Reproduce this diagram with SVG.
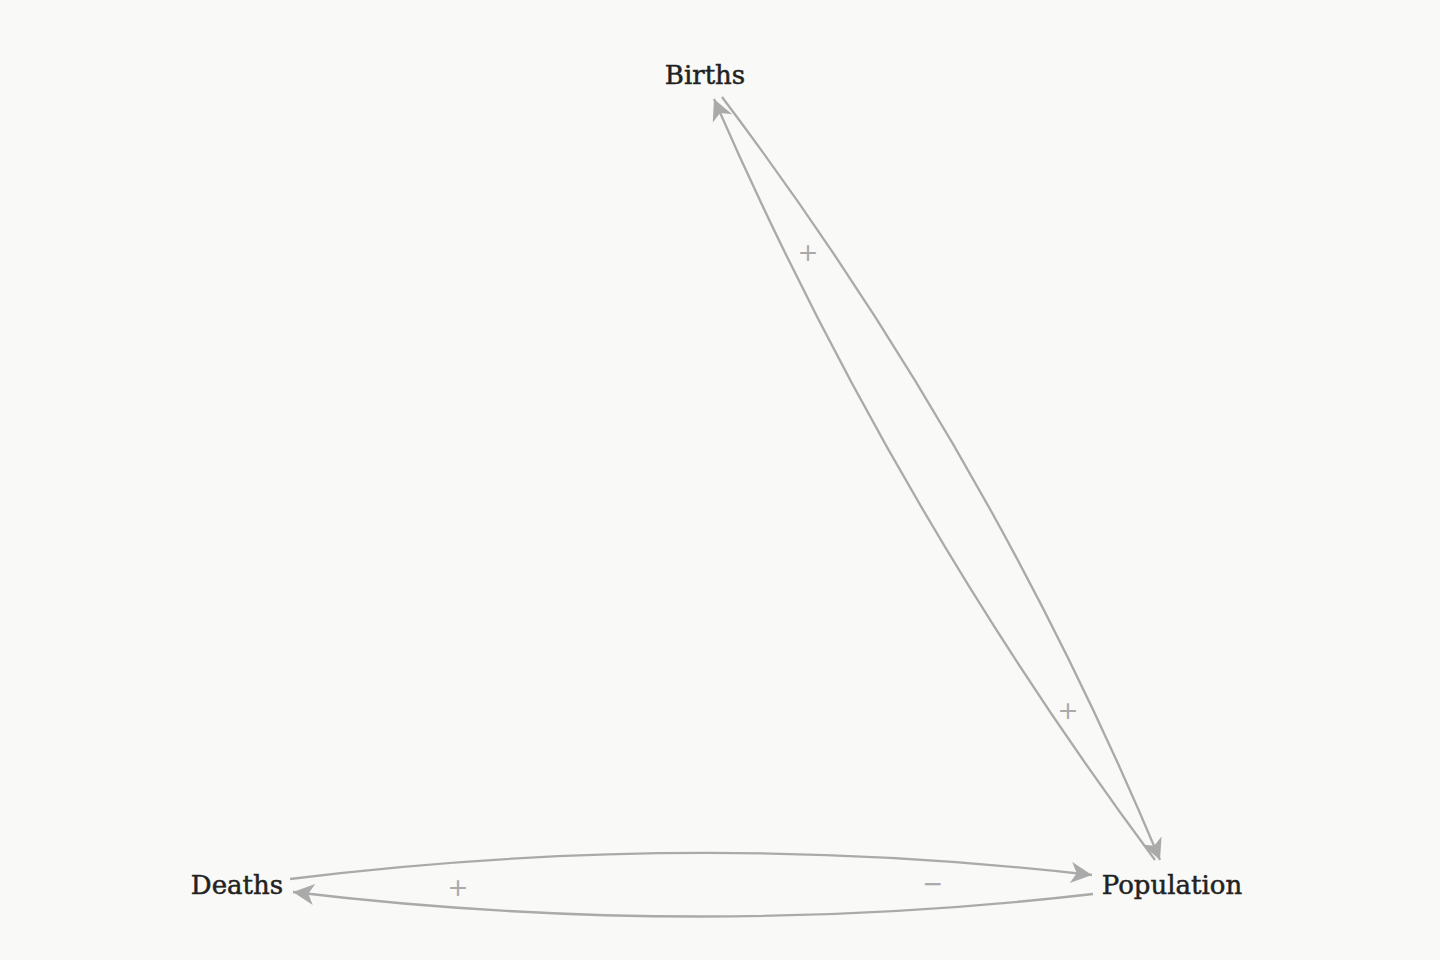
<svg xmlns="http://www.w3.org/2000/svg" width="1440" height="960" viewBox="0 0 1440 960">
<defs>
<style>
.node text{font-family:"DejaVu Serif","Liberation Serif",serif;font-size:26px;fill:#222;stroke:#222;stroke-width:0.5;text-anchor:middle}
.edge{fill:none;stroke:#aaa;stroke-width:2.3}
.lbl{font-family:"DejaVu Sans","Liberation Sans",sans-serif;font-size:25px;fill:#aaa;text-anchor:middle;dominant-baseline:central}
</style>
<marker id="arr" markerUnits="userSpaceOnUse" markerWidth="24" markerHeight="24" viewBox="-1 -12 25 24" refX="22" refY="0" orient="auto">
<path d="M0,-11 L22,0 L0,11 L6,0 Z" fill="#aaa"/>
</marker>
</defs>
<rect width="1440" height="960" fill="#f9f9f7"/>
<g id="connectors">
<path class="edge" d="M722,97 Q989,451 1160,860" marker-end="url(#arr)"/>
<path class="edge" d="M1155,860 Q891,505 714,99" marker-end="url(#arr)"/>
<path class="edge" d="M290,879 Q691,829 1092,875" marker-end="url(#arr)"/>
<path class="edge" d="M1093,894 Q693,940 293,892" marker-end="url(#arr)"/>
<text class="lbl" x="1068" y="710">+</text>
<text class="lbl" x="808" y="252">+</text>
<text class="lbl" x="933" y="883">−</text>
<text class="lbl" x="458" y="887">+</text>
</g>
<g id="births" class="node"><text x="705" y="84">Births</text></g>
<g id="population" class="node"><text x="1172" y="894">Population</text></g>
<g id="deaths" class="node"><text x="237" y="894">Deaths</text></g>
</svg>
